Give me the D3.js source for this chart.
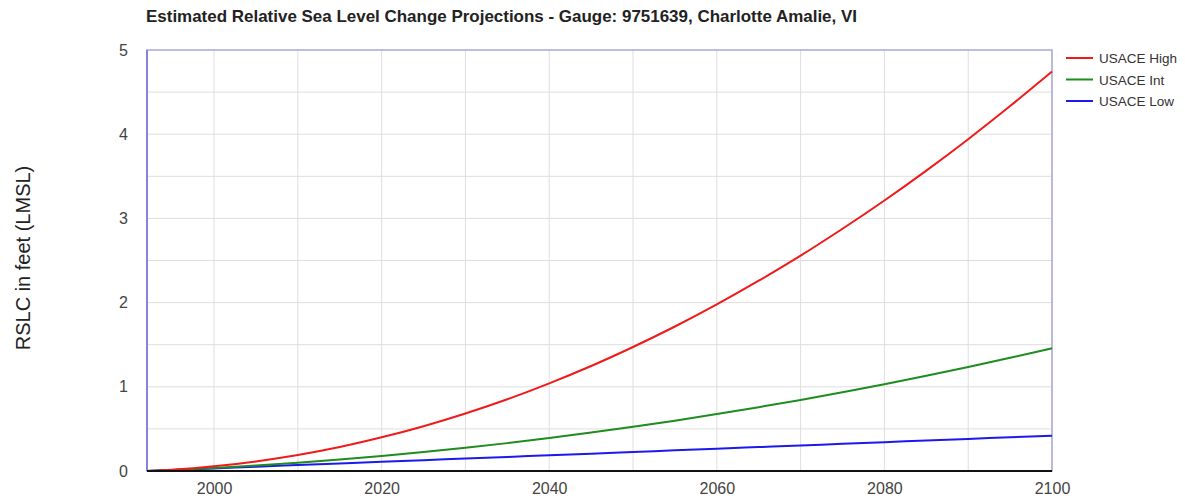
<!DOCTYPE html>
<html>
<head>
<meta charset="utf-8">
<script src="https://cdn.jsdelivr.net/npm/d3@7"></script>
<style>
  body { margin: 0; background: #fff; }
  svg { display: block; font-family: "Liberation Sans", Arial, sans-serif; }
</style>
</head>
<body>
<svg id="chart" width="1185" height="500"></svg>
<script>
// Projection years and relative sea level change (feet, LMSL)
const years = [1992, 1995, 2000, 2005, 2010, 2015, 2020, 2025, 2030, 2035, 2040, 2045,
               2050, 2055, 2060, 2065, 2070, 2075, 2080, 2085, 2090, 2095, 2100];
const usaceHigh = [0, 0.015, 0.055, 0.114, 0.190, 0.285, 0.400, 0.532, 0.683, 0.852, 1.041, 1.247,
                   1.473, 1.716, 1.979, 2.260, 2.558, 2.877, 3.213, 3.568, 3.941, 4.334, 4.744];
const usaceInt  = [0, 0.013, 0.037, 0.066, 0.099, 0.136, 0.179, 0.225, 0.276, 0.331, 0.392, 0.456,
                   0.525, 0.598, 0.676, 0.758, 0.844, 0.936, 1.031, 1.131, 1.235, 1.344, 1.457];
const usaceLow  = [0, 0.012, 0.031, 0.051, 0.070, 0.089, 0.109, 0.128, 0.148, 0.167, 0.187, 0.206,
                   0.226, 0.245, 0.265, 0.284, 0.303, 0.323, 0.342, 0.362, 0.381, 0.401, 0.420];
const seriesNames = ["USACE High", "USACE Int", "USACE Low"];
const seriesColors = ["#f01a1a", "#1e8c1e", "#1a1aee"];
const xTicks = [2000, 2020, 2040, 2060, 2080, 2100];
const xGrid = [2000, 2010, 2020, 2030, 2040, 2050, 2060, 2070, 2080, 2090, 2100];
const yTicks = [0, 1, 2, 3, 4, 5];
const yGrid = [0.5, 1, 1.5, 2, 2.5, 3, 3.5, 4, 4.5];

const svg = d3.select("#chart");
const plot = { left: 147, right: 1052, top: 50, bottom: 471 };

const x = d3.scaleLinear().domain([1992, 2100]).range([plot.left, plot.right]);
const y = d3.scaleLinear().domain([0, 5]).range([plot.bottom, plot.top]);

// Title
svg.append("text")
  .attr("x", 146).attr("y", 22)
  .attr("font-size", 16.5).attr("font-weight", "bold").attr("fill", "#222")
  .attr("textLength", 711).attr("lengthAdjust", "spacingAndGlyphs")
  .text("Estimated Relative Sea Level Change Projections - Gauge: 9751639, Charlotte Amalie, VI");

// Gridlines
svg.append("g").selectAll("line").data(xGrid).join("line")
  .attr("x1", d => x(d)).attr("x2", d => x(d))
  .attr("y1", plot.top).attr("y2", plot.bottom)
  .attr("stroke", "#dedede").attr("stroke-width", 1);
svg.append("g").selectAll("line").data(yGrid).join("line")
  .attr("x1", plot.left).attr("x2", plot.right)
  .attr("y1", d => y(d)).attr("y2", d => y(d))
  .attr("stroke", "#dedede").attr("stroke-width", 1);

// Plot frame
svg.append("rect")
  .attr("x", plot.left).attr("y", plot.top)
  .attr("width", plot.right - plot.left).attr("height", plot.bottom - plot.top)
  .attr("fill", "none").attr("stroke", "#a8a8d8").attr("stroke-width", 1.5);
svg.append("line")
  .attr("x1", plot.left).attr("x2", plot.left)
  .attr("y1", plot.top).attr("y2", plot.bottom)
  .attr("stroke", "#7070dd").attr("stroke-width", 1.5);

// Axes (labels only)
const xAxis = svg.append("g")
  .attr("transform", `translate(0,${plot.bottom})`)
  .call(d3.axisBottom(x).tickValues(xTicks).tickFormat(d3.format("d")).tickSize(0).tickPadding(12));
xAxis.select(".domain").remove();
xAxis.selectAll("text").attr("font-size", 16).attr("fill", "#444")
  .attr("font-family", "Liberation Sans, Arial, sans-serif");

const yAxis = svg.append("g")
  .attr("transform", `translate(${plot.left},0)`)
  .call(d3.axisLeft(y).tickValues(yTicks).tickFormat(d3.format("d")).tickSize(0).tickPadding(19));
yAxis.select(".domain").remove();
yAxis.selectAll("text").attr("font-size", 16).attr("fill", "#444")
  .attr("font-family", "Liberation Sans, Arial, sans-serif");

// Y axis title
svg.append("text")
  .attr("transform", "translate(30,258) rotate(-90)")
  .attr("text-anchor", "middle")
  .attr("font-size", 20).attr("fill", "#222")
  .text("RSLC in feet (LMSL)");

// Series lines
const seriesData = [usaceHigh, usaceInt, usaceLow];
const line = d3.line()
  .x(d => x(d[0])).y(d => y(d[1]))
  .curve(d3.curveMonotoneX);

svg.append("g").selectAll("path").data(seriesData.slice().reverse()).join("path")
  .attr("d", vals => line(years.map((yr, i) => [yr, vals[i]])))
  .attr("fill", "none")
  .attr("stroke", (d, i) => seriesColors[seriesColors.length - 1 - i])
  .attr("stroke-width", 2);

// Baseline
svg.append("line")
  .attr("x1", plot.left).attr("x2", plot.right)
  .attr("y1", plot.bottom).attr("y2", plot.bottom)
  .attr("stroke", "#111").attr("stroke-width", 2);

// Legend
const legend = svg.append("g").attr("transform", "translate(1066,58)");
seriesNames.forEach((name, i) => {
  const g = legend.append("g").attr("transform", `translate(0,${i * 21.5})`);
  g.append("line").attr("x1", 0).attr("x2", 27).attr("y1", 0).attr("y2", 0)
    .attr("stroke", seriesColors[i]).attr("stroke-width", 2);
  g.append("text").attr("x", 33).attr("y", 5)
    .attr("font-size", 13.5).attr("fill", "#333").text(name);
});
</script>
</body>
</html>
